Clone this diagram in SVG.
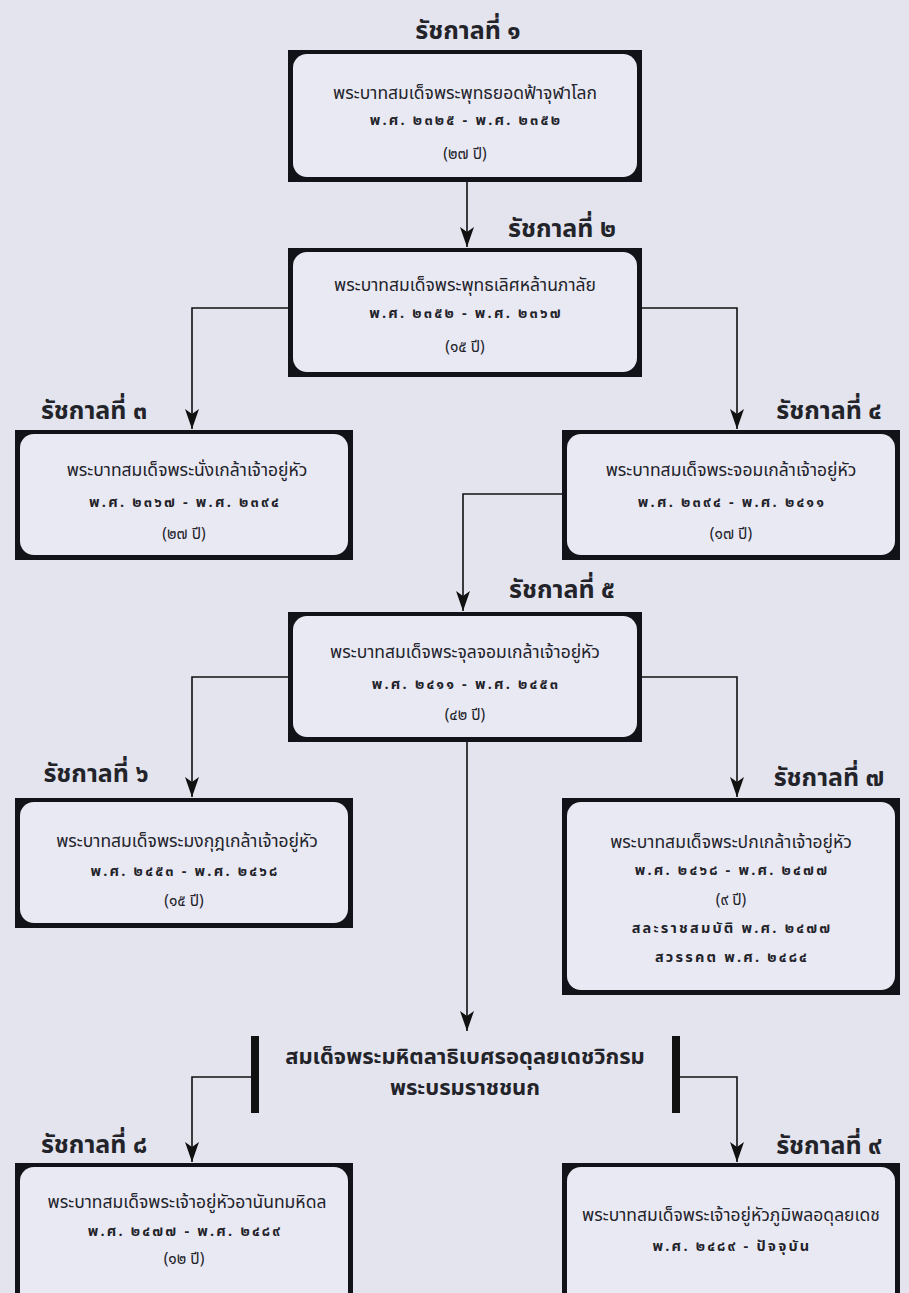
<svg xmlns="http://www.w3.org/2000/svg" width="909" height="1293" viewBox="0 0 909 1293">
<defs>
<style>
.frame{fill:#111318}
.inner{fill:#e9e9f4}
.t{font-family:"Noto Sans Thai","Noto Sans","Liberation Sans",sans-serif;fill:#23232a;text-anchor:middle}
.title{font-size:25px;font-weight:bold}
.name{font-size:17.5px}
.date{font-size:14.5px;font-weight:bold;letter-spacing:2.2px}
.yr{font-size:15.5px}
.big{font-size:22px;font-weight:bold}
.ln{fill:none;stroke:#111;stroke-width:1.6}
.bar{fill:#111}
</style>
<marker id="arr" markerUnits="userSpaceOnUse" viewBox="0 0 20 14" markerWidth="20" markerHeight="14" refX="20" refY="7" orient="auto">
<path d="M0,0 L20,7 L0,14 L5,7 z" fill="#111"/>
</marker>
</defs>
<rect x="0" y="0" width="909" height="1293" fill="#e3e4ee"/>

<g id="connectors">
<path class="ln" d="M467,182 V247" marker-end="url(#arr)"/>
<path class="ln" d="M288,308 H192 V429" marker-end="url(#arr)"/>
<path class="ln" d="M642,308 H737 V429" marker-end="url(#arr)"/>
<path class="ln" d="M562,494 H463 V611" marker-end="url(#arr)"/>
<path class="ln" d="M288,677 H192 V797" marker-end="url(#arr)"/>
<path class="ln" d="M642,677 H737 V797" marker-end="url(#arr)"/>
<path class="ln" d="M467,742 V1031" marker-end="url(#arr)"/>
<path class="ln" d="M255,1077 H192 V1162" marker-end="url(#arr)"/>
<path class="ln" d="M676,1077 H737 V1162" marker-end="url(#arr)"/>
</g>

<g id="r1">
<text class="t title" x="468" y="39">รัชกาลที่ ๑</text>
<rect class="frame" x="288" y="50" width="354" height="132"/>
<rect class="inner" x="293" y="54" width="344" height="123" rx="14"/>
<text class="t name" x="465" y="99">พระบาทสมเด็จพระพุทธยอดฟ้าจุฬาโลก</text>
<text class="t date" x="466" y="125">พ.ศ. ๒๓๒๕ - พ.ศ. ๒๓๕๒</text>
<text class="t yr" x="465" y="159">(๒๗ ปี)</text>
</g>

<g id="r2">
<text class="t title" x="562" y="237">รัชกาลที่ ๒</text>
<rect class="frame" x="288" y="248" width="354" height="129"/>
<rect class="inner" x="293" y="252" width="344" height="120" rx="14"/>
<text class="t name" x="465" y="291">พระบาทสมเด็จพระพุทธเลิศหล้านภาลัย</text>
<text class="t date" x="466" y="318">พ.ศ. ๒๓๕๒ - พ.ศ. ๒๓๖๗</text>
<text class="t yr" x="465" y="352">(๑๕ ปี)</text>
</g>

<g id="r3">
<text class="t title" x="94" y="419">รัชกาลที่ ๓</text>
<rect class="frame" x="15" y="430" width="338" height="130"/>
<rect class="inner" x="20" y="434" width="328" height="121" rx="14"/>
<text class="t name" x="187" y="476">พระบาทสมเด็จพระนั่งเกล้าเจ้าอยู่หัว</text>
<text class="t date" x="185" y="507">พ.ศ. ๒๓๖๗ - พ.ศ. ๒๓๙๔</text>
<text class="t yr" x="184" y="539">(๒๗ ปี)</text>
</g>

<g id="r4">
<text class="t title" x="829" y="419">รัชกาลที่ ๔</text>
<rect class="frame" x="562" y="430" width="338" height="130"/>
<rect class="inner" x="567" y="434" width="328" height="121" rx="14"/>
<text class="t name" x="731" y="476">พระบาทสมเด็จพระจอมเกล้าเจ้าอยู่หัว</text>
<text class="t date" x="732" y="507">พ.ศ. ๒๓๙๔ - พ.ศ. ๒๔๑๑</text>
<text class="t yr" x="731" y="539">(๑๗ ปี)</text>
</g>

<g id="r5">
<text class="t title" x="562" y="598">รัชกาลที่ ๕</text>
<rect class="frame" x="288" y="612" width="354" height="130"/>
<rect class="inner" x="293" y="616" width="344" height="121" rx="14"/>
<text class="t name" x="465" y="658">พระบาทสมเด็จพระจุลจอมเกล้าเจ้าอยู่หัว</text>
<text class="t date" x="466" y="689">พ.ศ. ๒๔๑๑ - พ.ศ. ๒๔๕๓</text>
<text class="t yr" x="465" y="720">(๔๒ ปี)</text>
</g>

<g id="r6">
<text class="t title" x="96" y="782">รัชกาลที่ ๖</text>
<rect class="frame" x="15" y="798" width="338" height="130"/>
<rect class="inner" x="20" y="802" width="328" height="121" rx="14"/>
<text class="t name" x="187" y="847">พระบาทสมเด็จพระมงกุฎเกล้าเจ้าอยู่หัว</text>
<text class="t date" x="185" y="876">พ.ศ. ๒๔๕๓ - พ.ศ. ๒๔๖๘</text>
<text class="t yr" x="184" y="906">(๑๕ ปี)</text>
</g>

<g id="r7">
<text class="t title" x="829" y="786">รัชกาลที่ ๗</text>
<rect class="frame" x="562" y="798" width="338" height="197"/>
<rect class="inner" x="567" y="802" width="328" height="188" rx="14"/>
<text class="t name" x="731" y="848">พระบาทสมเด็จพระปกเกล้าเจ้าอยู่หัว</text>
<text class="t date" x="732" y="875">พ.ศ. ๒๔๖๘ - พ.ศ. ๒๔๗๗</text>
<text class="t yr" x="731" y="905">(๙ ปี)</text>
<text class="t date" x="732" y="933">สละราชสมบัติ พ.ศ. ๒๔๗๗</text>
<text class="t date" x="732" y="962">สวรรคต พ.ศ. ๒๔๘๔</text>
</g>

<g id="mahidol">
<rect class="bar" x="251" y="1036" width="8" height="77"/>
<rect class="bar" x="672" y="1036" width="8" height="77"/>
<text class="t big" x="465" y="1064">สมเด็จพระมหิตลาธิเบศรอดุลยเดชวิกรม</text>
<text class="t big" x="465" y="1095">พระบรมราชชนก</text>
</g>

<g id="r8">
<text class="t title" x="94" y="1153">รัชกาลที่ ๘</text>
<rect class="frame" x="15" y="1163" width="338" height="140"/>
<rect class="inner" x="20" y="1167" width="328" height="140" rx="14"/>
<text class="t name" x="187" y="1208">พระบาทสมเด็จพระเจ้าอยู่หัวอานันทมหิดล</text>
<text class="t date" x="185" y="1236">พ.ศ. ๒๔๗๗ - พ.ศ. ๒๔๘๙</text>
<text class="t yr" x="184" y="1264">(๑๒ ปี)</text>
</g>

<g id="r9">
<text class="t title" x="829" y="1154">รัชกาลที่ ๙</text>
<rect class="frame" x="562" y="1163" width="338" height="140"/>
<rect class="inner" x="567" y="1167" width="328" height="140" rx="14"/>
<text class="t name" x="731" y="1221">พระบาทสมเด็จพระเจ้าอยู่หัวภูมิพลอดุลยเดช</text>
<text class="t date" x="732" y="1251">พ.ศ. ๒๔๘๙ - ปัจจุบัน</text>
</g>
</svg>
